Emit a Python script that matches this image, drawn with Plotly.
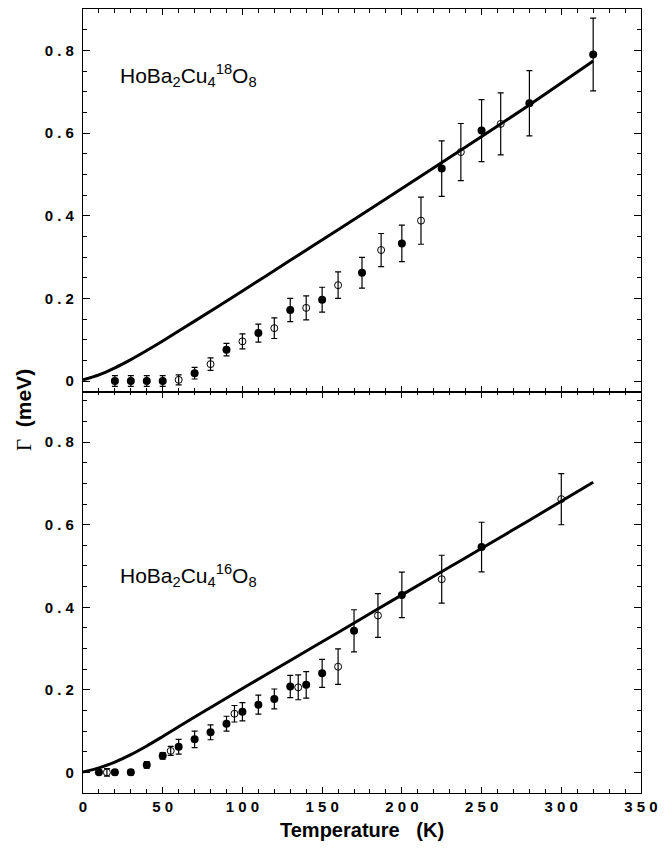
import plotly.graph_objects as go

# ---------------- data ----------------
# Top panel: HoBa2Cu4(18)O8
t18_filled = [20, 30, 40, 50, 70, 90, 110, 130, 150, 175, 200, 225, 250, 280, 320]
g18_filled = [0.0, 0.0, 0.0, 0.0, 0.019, 0.076, 0.116, 0.172, 0.197, 0.262, 0.333, 0.514, 0.606, 0.672, 0.790]
e18_filled = [0.013, 0.013, 0.013, 0.013, 0.014, 0.015, 0.022, 0.028, 0.030, 0.037, 0.044, 0.067, 0.075, 0.079, 0.088]

t18_open = [60, 80, 100, 120, 140, 160, 187, 212, 237, 262]
g18_open = [0.003, 0.041, 0.096, 0.128, 0.177, 0.232, 0.317, 0.388, 0.554, 0.622]
e18_open = [0.012, 0.015, 0.018, 0.025, 0.029, 0.032, 0.040, 0.057, 0.069, 0.075]

t18_curve = [0, 10, 20, 30, 40, 50, 70, 100, 130, 160, 200, 240, 280, 320]
g18_curve = [0.003, 0.015, 0.032, 0.052, 0.074, 0.097, 0.145, 0.218, 0.292, 0.366, 0.466, 0.566, 0.668, 0.774]

# Bottom panel: HoBa2Cu4(16)O8
t16_filled = [10, 20, 30, 40, 50, 60, 70, 80, 90, 100, 110, 120, 130, 140, 150, 170, 200, 250]
g16_filled = [0.0, 0.0, 0.0, 0.018, 0.040, 0.062, 0.080, 0.097, 0.118, 0.147, 0.164, 0.178, 0.208, 0.212, 0.240, 0.343, 0.430, 0.546]
e16_filled = [0.005, 0.006, 0.006, 0.008, 0.008, 0.018, 0.020, 0.018, 0.018, 0.022, 0.023, 0.024, 0.027, 0.032, 0.034, 0.051, 0.055, 0.060]

t16_open = [15, 55, 95, 135, 160, 185, 225, 300]
g16_open = [0.0, 0.052, 0.142, 0.206, 0.256, 0.380, 0.468, 0.662]
e16_open = [0.009, 0.011, 0.020, 0.030, 0.043, 0.053, 0.058, 0.062]

t16_curve = [0, 10, 20, 30, 40, 50, 70, 100, 130, 160, 200, 240, 280, 320]
g16_curve = [0.001, 0.011, 0.025, 0.043, 0.064, 0.087, 0.134, 0.203, 0.271, 0.339, 0.430, 0.520, 0.611, 0.703]

x_tickvals = [0, 50, 100, 150, 200, 250, 300, 350]
x_ticktext = ["0", "5 0", "1 0 0", "1 5 0", "2 0 0", "2 5 0", "3 0 0", "3 5 0"]
y_tickvals = [0, 0.2, 0.4, 0.6, 0.8]
y_ticktext = ["0", "0 . 2", "0 . 4", "0 . 6", "0 . 8"]

label_top = "HoBa<sub>2</sub>Cu<sub>4</sub><sup>18</sup>O<sub>8</sub>"
label_bottom = "HoBa<sub>2</sub>Cu<sub>4</sub><sup>16</sup>O<sub>8</sub>"

# ---------------- figure ----------------
fig = go.Figure()

err_style = dict(type="data", visible=True, color="black", thickness=1.2, width=3)

def add_panel(tc, gc, tf, gf, ef, to, go_, eo, xa, ya):
    fig.add_trace(go.Scatter(x=tc, y=gc, mode="lines", line=dict(color="black", width=3, shape="spline", smoothing=0.8),
                             xaxis=xa, yaxis=ya, showlegend=False, hoverinfo="skip"))
    fig.add_trace(go.Scatter(x=tf, y=gf, mode="markers",
                             marker=dict(symbol="circle", size=8, color="black"),
                             error_y=dict(array=ef, **err_style),
                             xaxis=xa, yaxis=ya, showlegend=False))
    fig.add_trace(go.Scatter(x=to, y=go_, mode="markers",
                             marker=dict(symbol="circle-open", size=7, color="black", line=dict(width=1)),
                             error_y=dict(array=eo, **err_style),
                             xaxis=xa, yaxis=ya, showlegend=False))

add_panel(t18_curve, g18_curve, t18_filled, g18_filled, e18_filled,
          t18_open, g18_open, e18_open, "x", "y")
add_panel(t16_curve, g16_curve, t16_filled, g16_filled, e16_filled,
          t16_open, g16_open, e16_open, "x2", "y2")

tickfont = dict(family="Liberation Sans, Arial", size=15, color="black", weight=700)
common_x = dict(range=[0, 350], showline=True, linecolor="black", linewidth=1.3, mirror="allticks",
                ticks="inside", ticklen=6, tickwidth=1.2, tickcolor="black",
                tickvals=x_tickvals, ticktext=x_ticktext, tickfont=tickfont,
                minor=dict(dtick=10, tick0=0, ticks="inside", ticklen=3.5, tickwidth=1, tickcolor="black"),
                showgrid=False, zeroline=False)
common_y = dict(showline=True, linecolor="black", linewidth=1.3, mirror="allticks",
                ticks="inside", ticklen=7, tickwidth=1.2, tickcolor="black",
                tickvals=y_tickvals, ticktext=y_ticktext, tickfont=tickfont,
                ticklabelstandoff=5,
                minor=dict(dtick=0.05, tick0=0, ticks="inside", ticklen=3.5, tickwidth=1, tickcolor="black"),
                showgrid=False, zeroline=False)

# page body has an 8px default margin, so the figure is sized/offset to compensate
split = 0.5117
fig.update_layout(
    width=664, height=844,
    margin=dict(l=75, r=31, t=1, b=59),
    paper_bgcolor="white", plot_bgcolor="white",
    xaxis=dict(anchor="y", showticklabels=False, **common_x),
    xaxis2=dict(anchor="y2", showticklabels=True, **common_x),
    yaxis=dict(domain=[split, 1], anchor="x", range=[-0.026, 0.9], **common_y),
    yaxis2=dict(domain=[0, split], anchor="x2", range=[-0.05, 0.922], **common_y),
    font=dict(family="Liberation Sans, Arial", color="black"),
)

fig.add_annotation(text=label_top, xref="paper", yref="paper", x=0.0627, y=0.9158,
                   xanchor="left", yanchor="middle", showarrow=False,
                   font=dict(family="Liberation Sans, Arial", size=21, color="black"))
fig.add_annotation(text=label_bottom, xref="paper", yref="paper", x=0.0627, y=0.278,
                   xanchor="left", yanchor="middle", showarrow=False,
                   font=dict(family="Liberation Sans, Arial", size=21, color="black"))

fig.add_annotation(text="<b>Temperature   (K)</b>", xref="paper", yref="paper", x=0.5, y=-0.0472,
                   xanchor="center", yanchor="middle", showarrow=False,
                   font=dict(family="Liberation Sans, Arial", size=20, color="black"))
fig.add_annotation(text="<span style='font-family:Liberation Serif'>Γ</span>  <b>(meV)</b>",
                   xref="paper", yref="paper", x=-0.1057, y=0.4885, textangle=-90,
                   xanchor="center", yanchor="middle", showarrow=False,
                   font=dict(family="Liberation Sans, Arial", size=21, color="black"))

fig.write_html("out.html")
